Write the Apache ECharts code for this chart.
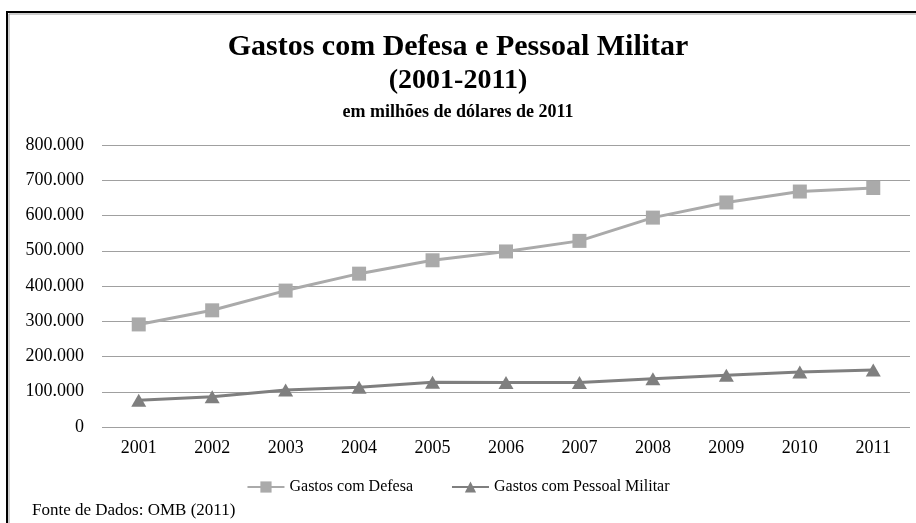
<!DOCTYPE html>
<html>
<head>
<meta charset="utf-8">
<script src="https://cdn.jsdelivr.net/npm/echarts@6/dist/echarts.min.js"></script>
<style>
html,body{margin:0;padding:0;background:#fff;}
#c{width:916px;height:523px;}
</style>
</head>
<body>
<div id="c"></div>
<script>
var years = ['2001','2002','2003','2004','2005','2006','2007','2008','2009','2010','2011'];
var gastosDefesa = [291000, 331000, 387000, 435000, 473000, 498000, 528000, 594000, 637000, 668000, 678000];
var gastosPessoal = [76000, 86000, 105000, 113000, 127000, 126000, 126000, 137000, 147000, 156000, 162000];
var seriesNames = ['Gastos com Defesa', 'Gastos com Pessoal Militar'];
var yTicks = [0, 100000, 200000, 300000, 400000, 500000, 600000, 700000, 800000];

var serif = 'Liberation Serif';
function fmt(v){
  return String(v).replace(/\B(?=(\d{3})+(?!\d))/g, '.');
}
var chart = echarts.init(document.getElementById('c'), null, {renderer:'canvas'});
chart.setOption({
  backgroundColor:'#ffffff',
  animation:false,
  textStyle:{fontFamily:serif},
  title:[
    {text:'Gastos com Defesa e Pessoal Militar', left:'center', top:27,
     textStyle:{fontFamily:serif, fontWeight:'bold', fontSize:30, color:'#000'}},
    {text:'(2001-2011)', left:'center', top:62,
     textStyle:{fontFamily:serif, fontWeight:'bold', fontSize:28, color:'#000'}},
    {text:'em milhões de dólares de 2011', left:'center', top:98,
     textStyle:{fontFamily:serif, fontWeight:'bold', fontSize:18, color:'#000'}}
  ],
  grid:{left:102, right:6, top:145, bottom:96, containLabel:false},
  legend:{
    data:seriesNames, left:'center', top:474, itemWidth:37, itemHeight:14, itemGap:38,
    textStyle:{fontFamily:serif, fontSize:16, color:'#000'}
  },
  xAxis:{
    type:'category', data:years, boundaryGap:true,
    axisLine:{show:false}, axisTick:{show:false},
    axisLabel:{fontFamily:serif, fontSize:18, color:'#000', margin:12}
  },
  yAxis:{
    type:'value', min:yTicks[0], max:yTicks[yTicks.length-1], interval:yTicks[1]-yTicks[0],
    axisLine:{show:false}, axisTick:{show:false},
    splitLine:{lineStyle:{color:'#a0a0a0', width:1}},
    axisLabel:{fontFamily:serif, fontSize:18, color:'#000', margin:18, formatter:fmt}
  },
  series:[
    {name:seriesNames[0], type:'line', data:gastosDefesa, symbol:'rect', symbolSize:14,
     lineStyle:{color:'#aaaaaa', width:3}, itemStyle:{color:'#aaaaaa'}},
    {name:seriesNames[1], type:'line', data:gastosPessoal, symbol:'triangle', symbolSize:[15,13],
     lineStyle:{color:'#7f7f7f', width:3}, itemStyle:{color:'#7f7f7f'}}
  ],
  graphic:[
    {type:'rect', shape:{x:9, y:14, width:1000, height:1000}, style:{fill:null, stroke:'#9a9a9a', lineWidth:1}},
    {type:'rect', shape:{x:7, y:12, width:1000, height:1000}, style:{fill:null, stroke:'#000', lineWidth:2}},
    {type:'text', left:32, top:502, style:{text:'Fonte de Dados: OMB (2011)', font:'17px "Liberation Serif", serif', fill:'#000'}}
  ]
});
</script>
</body>
</html>
